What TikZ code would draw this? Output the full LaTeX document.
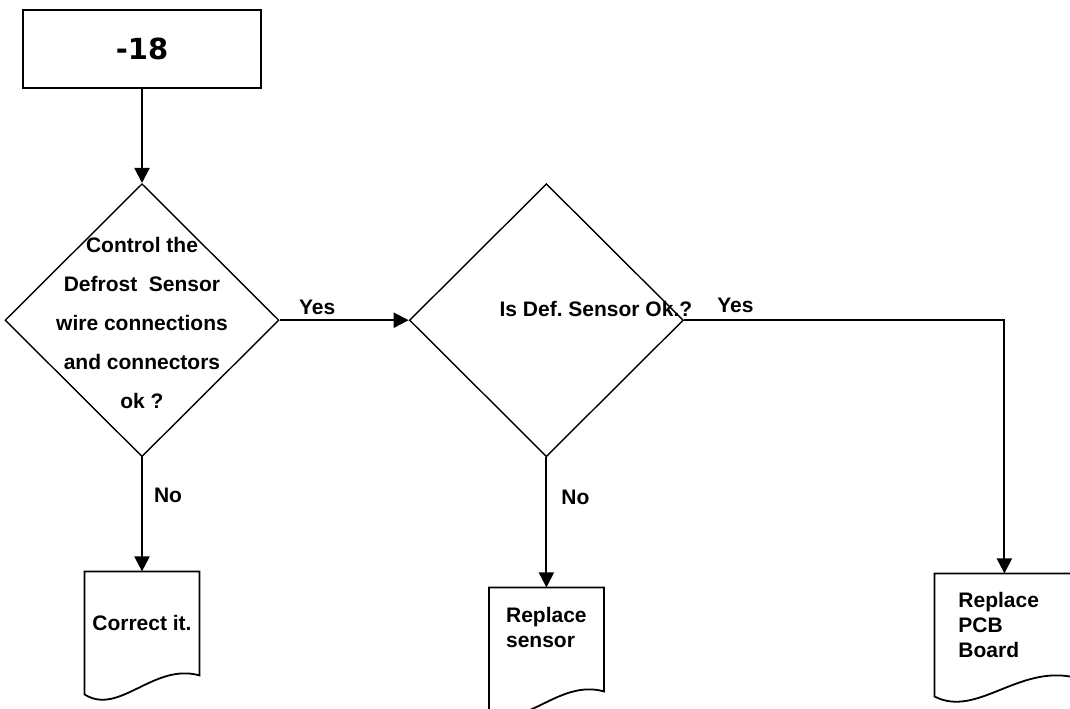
\documentclass[tikz,border=0pt]{standalone}
\usepackage{fontspec}
\setmainfont{Liberation Sans}
\newfontfamily\numfont{DejaVu Sans}
\usetikzlibrary{arrows.meta,shapes.geometric,calc}
\usetikzlibrary{positioning}
\tikzset{
    startbox/.style = {draw, line width=1pt, minimum width=119pt, minimum height=39pt,
                 font=\numfont\bfseries\fontsize{14.5}{16}\selectfont},
    decision/.style = {draw, diamond, line width=0.7pt, inner sep=0pt,
                 minimum width=137pt, minimum height=136.5pt},
    qtext/.style = {align=center, font=\bfseries\fontsize{10.5}{19.5}\selectfont},
    doc/.style = {align=left, inner sep=0pt, outer sep=0pt, minimum width=57.5pt,
                 minimum height=52pt, font=\bfseries\fontsize{10.5}{12.5}\selectfont},
    docline/.style = {-, line width=0.9pt},
    answer/.style = {font=\bfseries\fontsize{10.5}{12.5}\selectfont},
}

\begin{document}
\begin{tikzpicture}[->,>={Triangle[length=7.5pt,width=7.5pt]},line width=1pt]
\useasboundingbox (-71pt,24.5pt) rectangle (464pt,-329.5pt);
\node (temp) [startbox] {-18};
\node (q1) [decision,below=47pt of temp] {};
\node (q1t) [qtext,yshift=-1.25pt] at (q1) {Control the\\Defrost\ \ Sensor\\wire connections\\and connectors\\ok ?};
\node (q2) [decision,right=64.5pt of q1] {};
\node (q2t) [qtext,xshift=24.75pt,yshift=5.5pt] at (q2) {Is Def.\ Sensor Ok.?};
\node (c1) [doc,below=57pt of q1] {Correct it.};
\node (c2) [doc,text depth=12pt,below=65pt of q2] {Replace\\sensor};
\node (c3) [doc,minimum width=70pt,text width=46pt,xshift=229pt,below=58pt of q2] {Replace\\PCB\\Board};
% document outlines with wavy bottom
\foreach \nm in {c1,c2,c3}
  \draw[docline] ([yshift=-9.5pt]\nm.south west) -- (\nm.north west) -- (\nm.north east) -- (\nm.south east)
    .. controls ($(\nm.south west)!0.6!(\nm.south east)+(0,6.5pt)$) and ($(\nm.south west)!0.3!(\nm.south east)+(0,-20.5pt)$) .. ([yshift=-9.5pt]\nm.south west) -- cycle;
\draw (temp) -- (q1);
\draw (q1) -- node (y1) [answer,above,pos=0.29,inner sep=2.25pt] {Yes} (q2);
\draw (q2.east) -| node (y2) [answer,above,pos=0.08,inner sep=3.25pt] {Yes} (c3.north);
\draw (q1) -- node (n1) [answer,right,pos=0.33,inner sep=5.5pt] {No} (c1);
\draw (q2) -- node (n2) [answer,right,pos=0.31,inner sep=7pt] {No} (c2);
\end{tikzpicture}
\end{document}
